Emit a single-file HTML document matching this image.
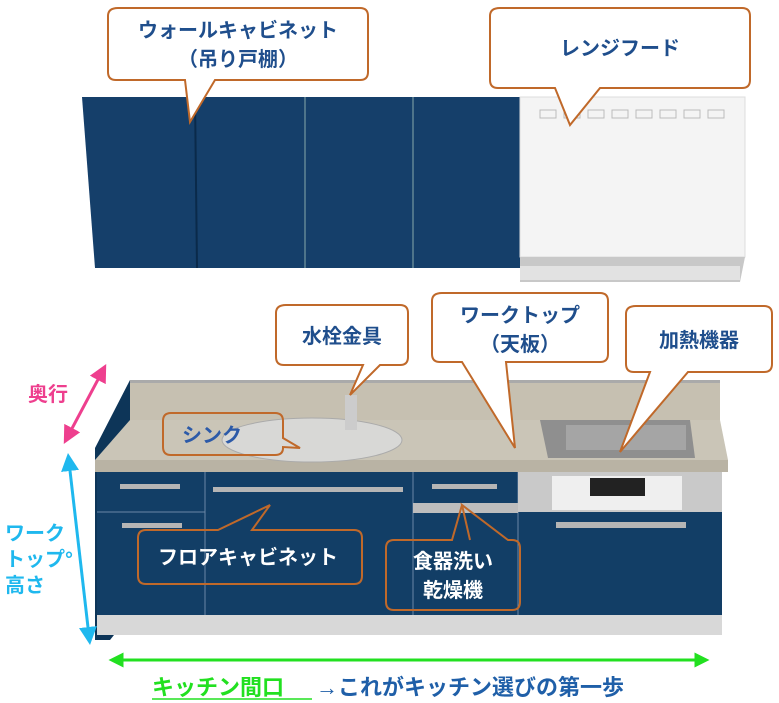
<!DOCTYPE html>
<html><head><meta charset="utf-8"><style>
html,body{margin:0;padding:0;background:#fff;width:779px;height:703px;overflow:hidden}
text{font-family:"Liberation Sans","Noto Sans CJK JP",sans-serif;font-weight:bold}
</style></head><body>
<svg width="779" height="703" viewBox="0 0 779 703" xmlns="http://www.w3.org/2000/svg">
<defs>
<marker id="pk" markerWidth="6" markerHeight="6" refX="3" refY="3" orient="auto-start-reverse"><path d="M0,0L6,3L0,6z" fill="#ee3f8e"/></marker>
<marker id="cy" markerWidth="6" markerHeight="6" refX="3" refY="3" orient="auto-start-reverse"><path d="M0,0L6,3L0,6z" fill="#1fb8ee"/></marker>
<marker id="gr" markerWidth="5" markerHeight="5" refX="2.5" refY="2.5" orient="auto-start-reverse"><path d="M0,0L5,2.5L0,5z" fill="#22e020"/></marker>
</defs>
<!-- wall cabinets -->
<polygon points="82,97 520,97 520,268 95,268" fill="#153f6a"/>
<line x1="195" y1="97" x2="197" y2="268" stroke="#0a2a4a" stroke-width="2"/>
<line x1="305" y1="97" x2="305" y2="268" stroke="#8aa" stroke-width="1"/>
<line x1="413" y1="97" x2="413" y2="268" stroke="#8aa" stroke-width="1"/>
<!-- hood -->
<rect x="520" y="97" width="225" height="160" fill="#f4f4f4" stroke="#ddd"/>
<g fill="none" stroke="#bbb">
<rect x="540" y="110" width="16" height="8"/><rect x="564" y="110" width="16" height="8"/><rect x="588" y="110" width="16" height="8"/><rect x="612" y="110" width="16" height="8"/><rect x="636" y="110" width="16" height="8"/><rect x="660" y="110" width="16" height="8"/><rect x="684" y="110" width="16" height="8"/><rect x="708" y="110" width="16" height="8"/>
</g>
<polygon points="520,257 745,257 740,282 520,282" fill="#c8c8c8"/>
<rect x="520" y="266" width="220" height="14" fill="#e2e2e2"/>
<!-- lower kitchen -->
<polygon points="95,448 130,380 130,615 110,640 95,640" fill="#0d3558"/>
<rect x="130" y="380" width="590" height="42" fill="#c6c0b1"/>
<rect x="130" y="380" width="590" height="3" fill="#aaa"/>
<polygon points="130,420 720,420 728,460 95,460" fill="#cac5b7"/>
<rect x="95" y="460" width="633" height="12" fill="#b9b3a4"/>
<rect x="97" y="472" width="625" height="143" fill="#123e66"/>
<rect x="97" y="615" width="625" height="20" fill="#d8d8d8"/>
<line x1="205" y1="472" x2="205" y2="615" stroke="#6b87a5"/>
<line x1="413" y1="472" x2="413" y2="615" stroke="#6b87a5"/>
<line x1="518" y1="472" x2="518" y2="615" stroke="#6b87a5"/>
<line x1="97" y1="512" x2="205" y2="512" stroke="#6b87a5"/>
<rect x="413" y="503" width="105" height="10" fill="#bdbdbd"/>
<rect x="518" y="472" width="204" height="40" fill="#c9c9c9"/>
<rect x="552" y="476" width="130" height="34" fill="#efefef"/>
<rect x="590" y="478" width="55" height="18" fill="#222"/>
<g fill="#b5b5b5"><rect x="120" y="484" width="60" height="5"/><rect x="213" y="487" width="190" height="5"/><rect x="432" y="484" width="65" height="5"/><rect x="122" y="523" width="60" height="5"/><rect x="556" y="522" width="130" height="6"/></g>
<!-- sink -->
<ellipse cx="312" cy="440" rx="90" ry="22" fill="#d8d8d6" stroke="#aaa"/>
<rect x="345" y="395" width="12" height="35" fill="#ccc"/>
<!-- hob -->
<polygon points="540,420 690,420 695,458 548,458" fill="#8f8f8f"/>
<rect x="566" y="425" width="120" height="25" fill="#a5a5a5"/>
<!-- callouts -->
<g fill="#fff" stroke="#c0692a" stroke-width="2">
<path d="M118,8 H360 Q368,8 368,16 V72 Q368,80 360,80 H215 L190,122 L185,80 H116 Q108,80 108,72 V16 Q108,8 118,8 Z"/>
<path d="M500,8 H742 Q750,8 750,16 V80 Q750,88 742,88 H600 L570,125 L555,88 H498 Q490,88 490,80 V16 Q490,8 500,8 Z"/>
<path d="M286,305 H400 Q408,305 408,313 V357 Q408,365 400,365 H380 L350,395 L363,365 H284 Q276,365 276,357 V313 Q276,305 286,305 Z"/>
<path d="M442,293 H600 Q608,293 608,301 V354 Q608,362 600,362 H506 L515,448 L462,362 H440 Q432,362 432,354 V301 Q432,293 442,293 Z"/>
<path d="M636,306 H764 Q772,306 772,314 V364 Q772,372 764,372 H688 L620,452 L650,372 H634 Q626,372 626,364 V314 Q626,306 636,306 Z"/>
</g>
<g fill="none" stroke="#c0692a" stroke-width="2">
<path d="M171,413 H275 Q283,413 283,421 V438 L300,448 L283,447 V448 Q283,455 275,455 H171 Q163,455 163,447 V421 Q163,413 171,413 Z"/>
<path d="M146,530 H218 L270,505 L252,530 H354 Q362,530 362,538 V576 Q362,584 354,584 H146 Q138,584 138,576 V538 Q138,530 146,530 Z"/>
<path d="M394,540 H452 L462,505 L470,540 L462,505 L508,540 H512 Q520,540 520,548 V602 Q520,610 512,610 H394 Q386,610 386,602 V548 Q386,540 394,540 Z"/>
</g>
<g font-size="20" fill="#1f4e8c" text-anchor="middle">
<text x="238" y="37">ウォールキャビネット</text>
<text x="238" y="66">（吊り戸棚）</text>
<text x="620" y="55">レンジフード</text>
<text x="342" y="343">水栓金具</text>
<text x="520" y="322">ワークトップ</text>
<text x="520" y="351">（天板）</text>
<text x="699" y="347">加熱機器</text>
<text x="212" y="442" fill="#2c5aa8">シンク</text>
</g>
<g font-size="20" fill="#fff" text-anchor="middle">
<text x="248" y="564">フロアキャビネット</text>
<text x="453" y="568">食器洗い</text>
<text x="453" y="597">乾燥機</text>
</g>
<!-- dimension arrows -->
<line x1="102" y1="372" x2="68" y2="436" stroke="#ee3f8e" stroke-width="3" marker-start="url(#pk)" marker-end="url(#pk)"/>
<text x="28" y="401" font-size="20" fill="#ee3f8e">奥行</text>
<line x1="69" y1="462" x2="89" y2="636" stroke="#1fb8ee" stroke-width="3" marker-start="url(#cy)" marker-end="url(#cy)"/>
<g font-size="20" fill="#1fb8ee"><text x="5" y="540">ワーク</text><text x="5" y="566">トップ°</text><text x="5" y="592">高さ</text></g>
<line x1="116" y1="660" x2="702" y2="660" stroke="#22e020" stroke-width="3" marker-start="url(#gr)" marker-end="url(#gr)"/>
<text x="152" y="695" font-size="22" fill="#22e020">キッチン間口</text>
<line x1="152" y1="699" x2="312" y2="699" stroke="#22e020" stroke-width="1.5"/>
<text x="316" y="695" font-size="22" fill="#1f5fa8">→これがキッチン選びの第一歩</text>
</svg>
</body></html>
